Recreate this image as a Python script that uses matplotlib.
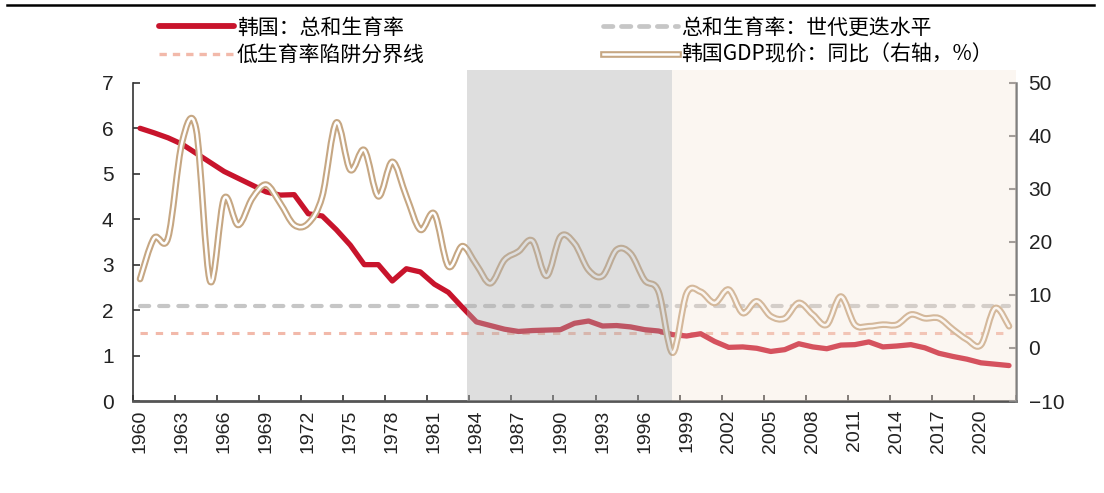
import numpy as np
import matplotlib.pyplot as plt
from matplotlib.lines import Line2D
from matplotlib.path import Path
from matplotlib.patches import PathPatch

plt.rcParams['font.family'] = ['Liberation Sans', 'Noto Sans CJK SC']

years = list(range(1960, 2023))

# 韩国总和生育率
tfr = [6.00, 5.90, 5.79, 5.65, 5.45, 5.25, 5.05, 4.90, 4.75, 4.60,
       4.53, 4.54, 4.12, 4.07, 3.77, 3.43, 3.00, 3.00, 2.64, 2.91,
       2.84, 2.57, 2.39, 2.06, 1.74, 1.66, 1.58, 1.53, 1.55, 1.56,
       1.57, 1.71, 1.76, 1.65, 1.66, 1.63, 1.57, 1.54, 1.46, 1.43,
       1.48, 1.31, 1.18, 1.19, 1.16, 1.09, 1.13, 1.26, 1.19, 1.15,
       1.23, 1.24, 1.30, 1.19, 1.21, 1.24, 1.17, 1.05, 0.98, 0.92,
       0.84, 0.81, 0.78]

# 韩国GDP现价同比（%）
gdp = [13.0, 20.7, 20.8, 38.8, 41.3, 12.6, 28.2, 23.2, 28.2, 30.8,
       27.3, 23.2, 23.5, 28.6, 42.5, 33.6, 37.3, 28.6, 35.1, 28.6,
       22.3, 25.3, 15.4, 19.2, 15.7, 12.2, 16.6, 18.2, 20.2, 13.6,
       21.0, 19.7, 14.7, 13.6, 18.5, 17.8, 12.8, 10.6, -0.9, 10.3,
       10.6, 8.5, 11.0, 6.6, 8.8, 6.0, 5.6, 8.5, 6.3, 4.4,
       9.7, 4.4, 4.1, 4.4, 4.4, 6.3, 5.6, 5.6, 3.5, 1.6,
       0.6, 7.5, 4.1]

replacement_level = 2.1
trap_level = 1.5

tick_years = list(range(1960, 2021, 3))
gray_period = (1983.3, 1997.95)
peach_period = (1997.95, 2022.5)

RED = '#C8142C'
TAN = '#C6A783'
GRAY_DASH = '#C6C6C6'
PINK_DASH = '#F2B9AA'

fig = plt.figure(figsize=(11.04, 4.93), dpi=100)
ax = fig.add_axes([0.1205, 0.1866, 0.7998, 0.6454])
ax2 = ax.twinx()

x = np.array(years, dtype=float)

# fertility lines on left axis
ax.plot(x, tfr, color=RED, lw=3.8, solid_capstyle='round', solid_joinstyle='round', zorder=3)
ax.plot([x[0], x[-1]], [replacement_level] * 2, color=GRAY_DASH, lw=3.0,
        dashes=(2.2, 2.4), dash_capstyle='round', zorder=2)
ax.plot([x[0], x[-1]], [trap_level] * 2, color=PINK_DASH, lw=2.2,
        dashes=(2.4, 2.6), zorder=2)

# GDP growth as smoothed double line (Excel-style smoothing)
g = np.array(gdp)
pts = np.column_stack([x, g])
verts = [pts[0]]
codes = [Path.MOVETO]
n = len(pts)
for i in range(n - 1):
    p0 = pts[i - 1] if i > 0 else pts[i]
    p1 = pts[i]
    p2 = pts[i + 1]
    p3 = pts[i + 2] if i + 2 < n else pts[i + 1]
    c1 = p1 + (p2 - p0) / 6.0
    c2 = p2 - (p3 - p1) / 6.0
    verts += [c1, c2, p2]
    codes += [Path.CURVE4] * 3
path = Path(verts, codes)
ax2.add_patch(PathPatch(path, fill=False, edgecolor=TAN, lw=4.8,
                        joinstyle='round', capstyle='round', zorder=3))
ax2.add_patch(PathPatch(path, fill=False, edgecolor='white', lw=1.8,
                        joinstyle='round', capstyle='round', zorder=4))

# shaded periods drawn over the lines
ax2.axvspan(*gray_period, ymin=0, ymax=1.04, color='#B2B2B2', alpha=0.42,
            lw=0, zorder=10, clip_on=False)
ax2.axvspan(*peach_period, ymin=0, ymax=1.04, color='#F5E2D3', alpha=0.3,
            lw=0, zorder=10, clip_on=False)

ax.set_xlim(1959.5, 2022.5)
ax.set_ylim(0, 7)
ax2.set_ylim(-10, 50)
ax.set_yticks(range(0, 8))
ax2.set_yticks(range(-10, 51, 10))

ax.set_xticks(tick_years)
ax.set_xticklabels([str(y) for y in tick_years], rotation=90)
ax.set_xticks(np.arange(1959.5, 2022.6, 3), minor=True)
ax.tick_params(axis='x', which='major', length=0, pad=6, labelsize=14, labelcolor='#222222')
ax.tick_params(axis='x', which='minor', direction='in', length=4, width=1.2, color='#333333')
ax.tick_params(axis='y', direction='in', length=5, width=1.2, color='#333333',
               pad=14, labelsize=15, labelcolor='#222222')
ax2.tick_params(axis='y', direction='in', length=5, width=1.5, color='#808080',
                pad=9, labelsize=15, labelcolor='#222222')

for a in (ax, ax2):
    a.spines['top'].set_visible(False)
ax.spines['right'].set_visible(False)
ax2.spines['left'].set_visible(False)
ax2.spines['bottom'].set_visible(False)
ax.spines['left'].set_color('#333333')
ax.spines['left'].set_linewidth(1.2)
ax.spines['bottom'].set_color('#555555')
ax.spines['bottom'].set_linewidth(2.0)
ax2.spines['right'].set_color('#808080')
ax2.spines['right'].set_linewidth(1.8)

# top rule
fig.add_artist(Line2D([7 / 1104, 1094 / 1104], [1 - 5 / 493] * 2, color='black', lw=1.8))

# legends
h_red = Line2D([], [], color=RED, lw=4.2, solid_capstyle='round')
h_trap = Line2D([], [], color=PINK_DASH, lw=2.4, dashes=(2.2, 1.8))
h_rep = Line2D([], [], color=GRAY_DASH, lw=3.4, dashes=(2.0, 1.8), dash_capstyle='round')
h_gdp = (Line2D([], [], color=TAN, lw=4.8), Line2D([], [], color='white', lw=1.8))

leg_font = {'family': ['Noto Sans CJK SC'], 'size': 15}
leg1 = fig.legend([h_red, h_trap], ['韩国：总和生育率', '低生育率陷阱分界线'],
                  loc='upper left', bbox_to_anchor=(144 / 1104, 1 - 2 / 493),
                  frameon=False, prop=leg_font, handlelength=3.6, handletextpad=0.15,
                  labelspacing=0.25, borderpad=0.2)
leg2 = fig.legend([h_rep, h_gdp], ['总和生育率：世代更迭水平', '韩国GDP现价：同比（右轴，%）'],
                  loc='upper left', bbox_to_anchor=(588 / 1104, 1 - 2 / 493),
                  frameon=False, prop=leg_font, handlelength=3.6, handletextpad=0.15,
                  labelspacing=0.25, borderpad=0.2)

fig.savefig('out.png', dpi=100)
